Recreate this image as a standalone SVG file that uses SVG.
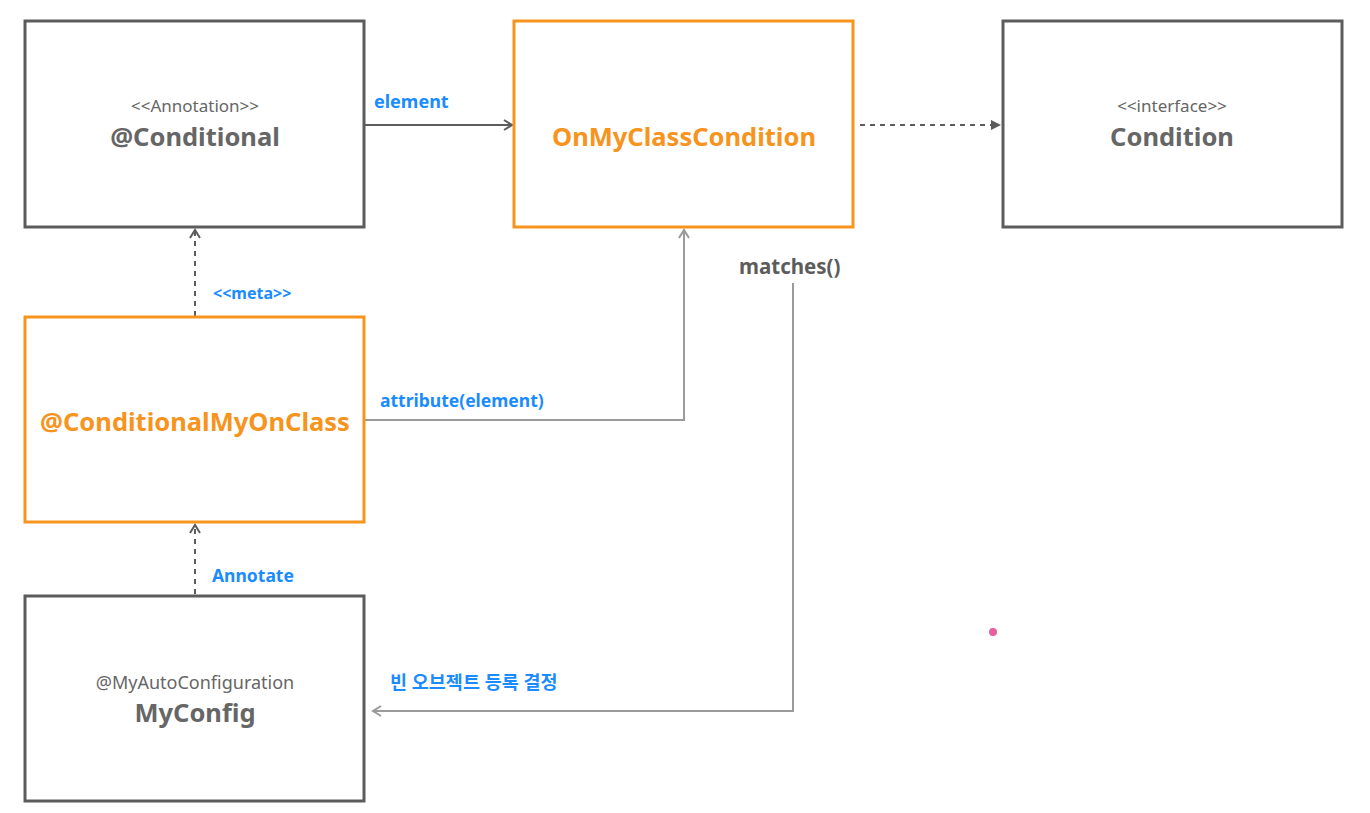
<svg xmlns="http://www.w3.org/2000/svg" width="1370" height="813" viewBox="0 0 1370 813">
<defs>
<style>
.box{fill:#ffffff;stroke:#5c5c5c;stroke-width:3}
.obox{fill:#ffffff;stroke:#f7941d;stroke-width:3}
.t{font-family:"Noto Sans","Liberation Sans",sans-serif;text-anchor:middle}
.stereo{font-size:17px;fill:#666666}
.name{font-size:25.5px;font-weight:bold;fill:#666666}
.oname{font-size:25.5px;font-weight:bold;fill:#f7941d}
.lbl{font-family:"Noto Sans","Noto Sans CJK KR",sans-serif;font-size:17.5px;font-weight:bold;fill:#1a8cff}
.dark{stroke:#5c5c5c;stroke-width:2;fill:none}
.light{stroke:#9a9a9a;stroke-width:2;fill:none}
.dash{stroke-dasharray:5,5}
</style>
<marker id="openDark" markerWidth="12" markerHeight="12" refX="10" refY="6" orient="auto" markerUnits="userSpaceOnUse">
<path d="M2,1 L10,6 L2,11" fill="none" stroke="#5c5c5c" stroke-width="2"/>
</marker>
<marker id="openLight" markerWidth="12" markerHeight="12" refX="10" refY="6" orient="auto" markerUnits="userSpaceOnUse">
<path d="M2,1 L10,6 L2,11" fill="none" stroke="#9a9a9a" stroke-width="2"/>
</marker>
<marker id="filledDark" markerWidth="12" markerHeight="12" refX="10" refY="6" orient="auto" markerUnits="userSpaceOnUse">
<path d="M1,1 L11,6 L1,11 Z" fill="#5c5c5c"/>
</marker>
</defs>
<rect width="1370" height="813" fill="#ffffff"/>

<g id="connectors">
<line class="dark" x1="365" y1="125" x2="512" y2="125" marker-end="url(#openDark)"/>
<line class="dark dash" x1="860" y1="125" x2="1000" y2="125" marker-end="url(#filledDark)"/>
<line class="dark dash" x1="195" y1="316" x2="195" y2="230" marker-end="url(#openDark)"/>
<line class="dark dash" x1="195" y1="594" x2="195" y2="525" marker-end="url(#openDark)"/>
<polyline class="light" points="365,420 684,420 684,230" marker-end="url(#openLight)"/>
<polyline class="light" points="793,283 793,711 373,711" marker-end="url(#openLight)"/>
<text class="lbl" x="374" y="108" style="font-size:18px">element</text>
<text class="lbl" x="213" y="299" style="font-size:16px">&lt;&lt;meta&gt;&gt;</text>
<text class="lbl" x="380" y="407">attribute(element)</text>
<text class="lbl" x="212" y="582">Annotate</text>
<text class="lbl" x="390" y="689" style="font-size:18.5px">빈 오브젝트 등록 결정</text>
<text x="739" y="274" style="font-family:'Noto Sans','Liberation Sans',sans-serif;font-size:20.5px;font-weight:bold;fill:#5c5c5c">matches()</text>
</g>

<g id="conditional">
<rect class="box" x="25" y="21" width="339" height="206"/>
<text class="t stereo" x="195" y="112">&lt;&lt;Annotation&gt;&gt;</text>
<text class="t name" x="195" y="146">@Conditional</text>
</g>

<g id="onMyClassCondition">
<rect class="obox" x="514" y="21" width="339" height="206"/>
<text class="t oname" x="684" y="146">OnMyClassCondition</text>
</g>

<g id="condition">
<rect class="box" x="1003" y="21" width="339" height="206"/>
<text class="t stereo" x="1172" y="112">&lt;&lt;interface&gt;&gt;</text>
<text class="t name" x="1172" y="146">Condition</text>
</g>

<g id="conditionalMyOnClass">
<rect class="obox" x="25" y="317" width="339" height="205"/>
<text class="t oname" x="195" y="431">@ConditionalMyOnClass</text>
</g>

<g id="myConfig">
<rect class="box" x="25" y="596" width="339" height="205"/>
<text class="t" x="195" y="689" style="font-size:18px;fill:#666666">@MyAutoConfiguration</text>
<text class="t name" x="195" y="722">MyConfig</text>
</g>

<circle cx="993" cy="632" r="4" fill="#e8609e"/>
</svg>
